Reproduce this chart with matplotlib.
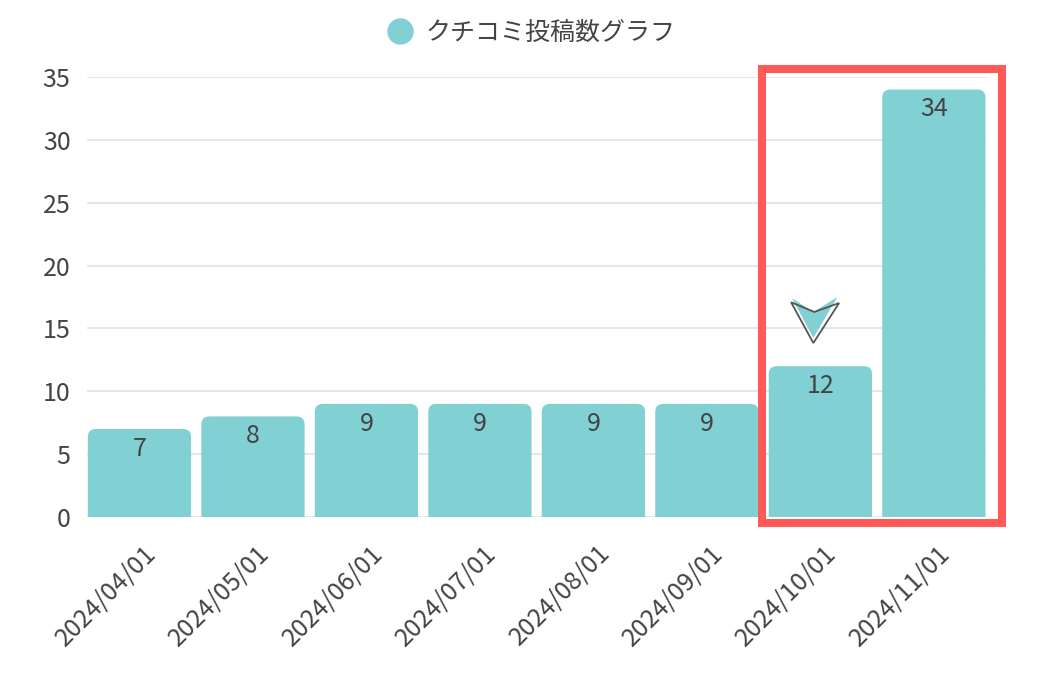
import matplotlib
matplotlib.use("Agg")
import matplotlib.pyplot as plt
import matplotlib.transforms as mtransforms
from matplotlib.lines import Line2D
from matplotlib.patches import FancyBboxPatch, Rectangle, Polygon

plt.rcParams["font.family"] = ["Noto Sans CJK JP", "DejaVu Sans"]

months = ["2024/04/01", "2024/05/01", "2024/06/01", "2024/07/01",
          "2024/08/01", "2024/09/01", "2024/10/01", "2024/11/01"]
posts = [7, 8, 9, 9, 9, 9, 12, 34]
series_name = "クチコミ投稿数グラフ"
y_ticks = [0, 5, 10, 15, 20, 25, 30, 35]

BAR = "#80d0d4"
TEXT = "#444444"
GRID = "#e6e6e6"
RED = "#ff5a5a"
FS = 18

fig = plt.figure(figsize=(10.5, 6.75), dpi=100)
ax = fig.add_axes([0.0831, 0.234, 0.856, 0.652])

x = list(range(len(posts)))
bars = ax.bar(x, posts, width=0.91, color=BAR)

# swap plain bars for ones with rounded top corners
px_x = 1 / 113.5
px_y = 1 / 12.57
for b in bars:
    b.set_visible(False)
    fb = FancyBboxPatch((b.get_x(), -1.0), b.get_width(), b.get_height() + 1.0,
                        boxstyle=f"round,pad=0,rounding_size={8 * px_x}",
                        mutation_aspect=px_y / px_x,
                        facecolor=BAR, edgecolor="none", zorder=2)
    ax.add_patch(fb)

ax.set_xlim(-0.46, len(posts) - 1 + 0.46)
ax.set_ylim(0, 35)
ax.set_yticks(y_ticks)
ax.yaxis.grid(True, color=GRID, linewidth=1.4)
ax.set_axisbelow(True)
for s in ax.spines.values():
    s.set_visible(False)
ax.tick_params(length=0, labelsize=FS, colors=TEXT)
ax.tick_params(axis="y", pad=12)

ax.set_xticks(x)
ax.set_xticklabels(months, rotation=45, ha="right", rotation_mode="anchor")
shift = mtransforms.ScaledTranslation(3 / 100, -18 / 100, fig.dpi_scale_trans)
for lab in ax.get_xticklabels():
    lab.set_transform(lab.get_transform() + shift)

# value labels inside the bars
for xi, v in zip(x, posts):
    ax.annotate(str(v), (xi, v), xytext=(0, -5), textcoords="offset points",
                ha="center", va="top", fontsize=FS, color=TEXT, zorder=3)

# highlight box around the last two months
ax.add_patch(Rectangle((5.484, -0.48), 7.599 - 5.484, 35.64 + 0.48,
                       fill=False, edgecolor=RED, linewidth=5.8,
                       clip_on=False, zorder=4))

# little down arrow above the 10/01 bar
i = 6
ax.add_patch(Polygon([(i - 0.249, 17.40), (i - 0.062, 16.31), (i + 0.150, 17.50),
                      (i - 0.062, 14.24)], closed=True, facecolor=BAR,
                     edgecolor="none", zorder=3))
ax.add_patch(Polygon([(i - 0.258, 17.08), (i - 0.053, 16.31), (i + 0.165, 17.02),
                      (i - 0.062, 13.84)], closed=True, fill=False,
                     edgecolor="#555555", linewidth=1.3, zorder=3))

handle = Line2D([], [], linestyle="none", marker="o", markersize=18,
                markerfacecolor=BAR, markeredgecolor=BAR)
fig.legend([handle], [series_name], loc="center", bbox_to_anchor=(0.506, 0.951),
           frameon=False, fontsize=FS, labelcolor=TEXT, handletextpad=0.5,
           handlelength=1.0)

fig.savefig("out.png", dpi=100)
